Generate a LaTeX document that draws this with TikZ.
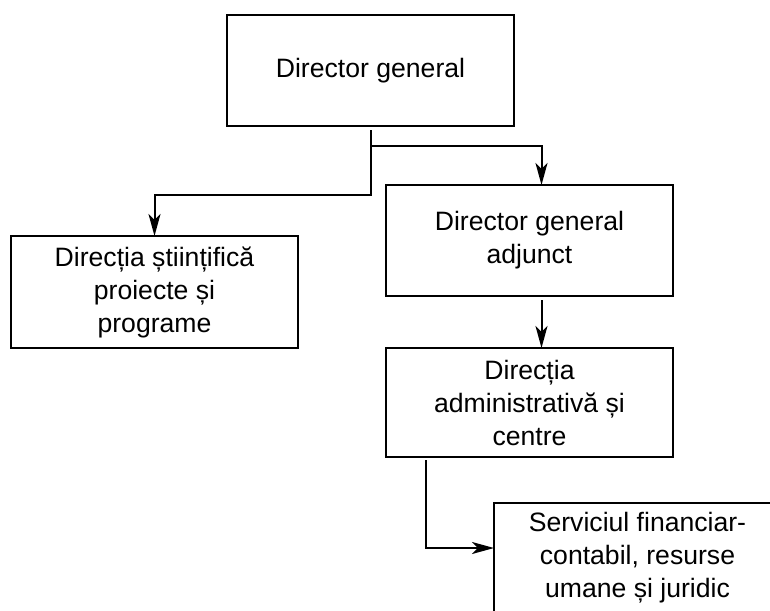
\documentclass[tikz,border=0pt]{standalone}
\usepackage{fontspec}
\setmainfont{Liberation Sans}
\usetikzlibrary{calc}
\usetikzlibrary{positioning}
\usetikzlibrary{arrows.meta}
\tikzset{node distance=26pt, % Gap between stacked boxes
  every node/.style={align=center,
    font=\fontsize{13.3pt}{16.5pt}\selectfont},
  unit/.style={ % Sets the properties for each box
    draw, line width=1pt,
    minimum width=143.5pt,
    minimum height=55.5pt,
    inner sep=2pt,
    outer sep=0pt},
  link/.style={ % Sets the properties for each connector
    draw, line width=1pt,
    -{Stealth[length=11pt,width=6pt,inset=3pt]}}}

\begin{document}
\begin{tikzpicture}
  \useasboundingbox (0pt,0pt) rectangle (385pt,-305pt);
  \clip (0pt,0pt) rectangle (385pt,-305pt);

  \node [unit] (dgen) at (185.25pt,-35.25pt) {Director general};
  \node [unit, minimum height=56pt] (stiint) at (77.25pt,-146pt) {
    Direcția științifică\\
    proiecte și\\
    programe};
  \node [unit] (adjunct) at (264.75pt,-120.25pt) {
    Director general\\
    adjunct};
  \node [unit, below=of adjunct, minimum height=54.5pt] (admin) {
    Direcția\\
    administrativă și\\
    centre};
  \node [unit, anchor=north west, minimum height=55pt] (serv)
    at ([xshift=54pt,yshift=-23pt]admin.south west) {
    Serviciul financiar-\\
    contabil, resurse\\
    umane și juridic};

  \coordinate (dgenout) at ([yshift=-2pt]dgen.south);
  \coordinate (adjout) at ([xshift=6pt,yshift=-2pt]adjunct.south);
  \coordinate (adminout) at ([xshift=20pt,yshift=-1.5pt]admin.south west);

  \draw [link] (dgenout) -- ++(0,-8pt) -| ([xshift=6pt]adjunct.north);
  \draw [link] (dgenout) -- ++(0,-32.5pt) -| (stiint.north);
  \draw [link] (adjout) -- (adjout |- admin.north);

  % down from the admin box, then across
  \draw [link] (adminout) |- ([yshift=-22.5pt]serv.north west);

\end{tikzpicture}
\end{document}
